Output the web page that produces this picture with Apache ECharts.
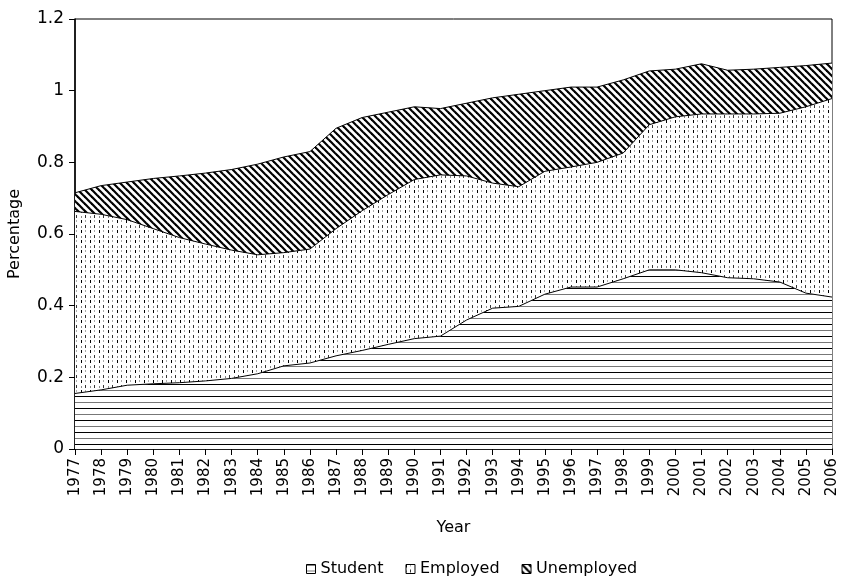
<!DOCTYPE html>
<html>
<head>
<meta charset="utf-8">
<script src="https://cdn.jsdelivr.net/npm/echarts@6/dist/echarts.min.js"></script>
<style>html,body{margin:0;padding:0;background:#fff}#c{width:842px;height:577px}</style>
</head>
<body>
<div id="c"></div>
<script>
const years = ['1977','1978','1979','1980','1981','1982','1983','1984','1985','1986','1987','1988','1989','1990','1991','1992','1993','1994','1995','1996','1997','1998','1999','2000','2001','2002','2003','2004','2005','2006'];
const student    = [0.155,0.165,0.178,0.182,0.185,0.190,0.197,0.210,0.232,0.240,0.260,0.275,0.292,0.308,0.315,0.360,0.393,0.398,0.432,0.452,0.452,0.475,0.500,0.500,0.492,0.478,0.475,0.466,0.435,0.424];
const employed   = [0.508,0.490,0.462,0.433,0.405,0.382,0.358,0.332,0.316,0.318,0.355,0.390,0.418,0.444,0.450,0.402,0.349,0.334,0.343,0.335,0.348,0.351,0.405,0.427,0.443,0.457,0.460,0.471,0.520,0.554];
const unemployed = [0.052,0.080,0.105,0.140,0.172,0.198,0.225,0.253,0.267,0.272,0.280,0.260,0.230,0.203,0.185,0.203,0.238,0.258,0.225,0.223,0.210,0.204,0.150,0.133,0.140,0.122,0.125,0.128,0.115,0.099];
const yTicks = [0, 0.2, 0.4, 0.6, 0.8, 1, 1.2];

function mk(w, h, draw) {
  const c = document.createElement('canvas');
  c.width = w; c.height = h;
  const g = c.getContext('2d');
  g.fillStyle = '#fff'; g.fillRect(0, 0, w, h);
  draw(g);
  return { image: c, repeat: 'repeat' };
}
const patStudent = mk(8, 12, g => {
  g.fillStyle = '#000'; g.fillRect(0, 0, 8, 1);
  g.fillStyle = '#777'; g.fillRect(0, 6, 8, 1);
});
const patEmployed = mk(9, 10, g => {
  g.fillStyle = '#000'; g.fillRect(0, 0, 1, 3);
  g.fillStyle = '#333'; g.fillRect(4, 5, 1, 3);
  g.fillStyle = '#888'; g.fillRect(0, 6, 1, 2);
  g.fillStyle = '#aaa'; g.fillRect(4, 0, 1, 2);
});
const patUnemp = mk(7, 7, g => {
  g.strokeStyle = '#000'; g.lineWidth = 2.2;
  for (const k of [-7, 0, 7]) {
    g.beginPath(); g.moveTo(k - 1, -1); g.lineTo(k + 8, 8); g.stroke();
  }
});

const chart = echarts.init(document.getElementById('c'), null, { renderer: 'canvas' });
const font = 'DejaVu Sans, Liberation Sans, Arial, sans-serif';
function ser(name, data, pat) {
  return {
    name, type: 'line', stack: 'all', data,
    showSymbol: false, symbol: 'none',
    lineStyle: { color: '#000', width: 1 },
    itemStyle: { color: '#000' },
    areaStyle: { color: pat, opacity: 1 },
    emphasis: { disabled: true }
  };
}
chart.setOption({
  animation: false,
  textStyle: { fontFamily: font },
  grid: { left: 75, right: 10, top: 19, bottom: 128, show: true, borderColor: '#000', borderWidth: 1, backgroundColor: 'transparent', containLabel: false, outerBoundsMode: 'none' },
  legend: {
    top: 556, left: 301, icon: 'rect', itemWidth: 9, itemHeight: 9, itemGap: 22,
    textStyle: { fontFamily: font, fontSize: 16, color: '#000' },
    data: [
      { name: 'Student', itemStyle: { color: patStudent, borderColor: '#000', borderWidth: 1 } },
      { name: 'Employed', itemStyle: { color: patEmployed, borderColor: '#000', borderWidth: 1 } },
      { name: 'Unemployed', itemStyle: { color: patUnemp, borderColor: '#000', borderWidth: 1 } }
    ]
  },
  xAxis: {
    type: 'category', data: years, boundaryGap: false,
    name: 'Year', nameLocation: 'middle', nameGap: 71,
    nameTextStyle: { fontFamily: font, fontSize: 16, color: '#000' },
    axisLine: { lineStyle: { color: '#000', width: 1.5 } },
    axisTick: { show: true, length: 6, lineStyle: { color: '#000' }, interval: 0 },
    axisLabel: { rotate: 90, interval: 0, margin: 9, fontFamily: font, fontSize: 15, color: '#000' },
    splitLine: { show: false }
  },
  yAxis: {
    type: 'value', min: yTicks[0], max: yTicks[yTicks.length - 1], interval: 0.2,
    name: 'Percentage', nameLocation: 'middle', nameGap: 52, nameRotate: 90,
    nameTextStyle: { fontFamily: font, fontSize: 16, color: '#000' },
    axisLine: { show: true, lineStyle: { color: '#000', width: 1.5 } },
    axisTick: { show: true, length: 6, lineStyle: { color: '#000' } },
    axisLabel: { margin: 11, fontFamily: font, fontSize: 17, color: '#000' },
    splitLine: { show: false }
  },
  series: [
    ser('Student', student, patStudent),
    ser('Employed', employed, patEmployed),
    ser('Unemployed', unemployed, patUnemp)
  ]
});
</script>
</body>
</html>
